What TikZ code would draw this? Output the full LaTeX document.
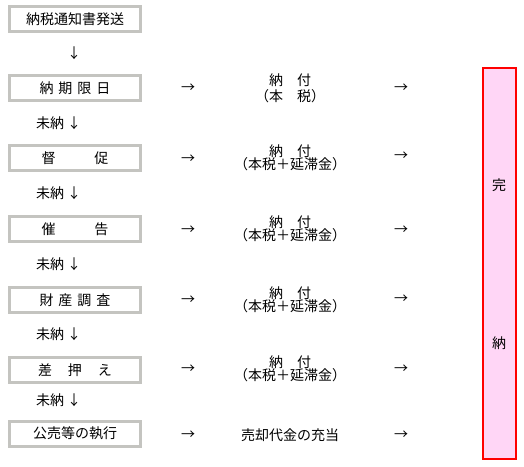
\documentclass[tikz,border=0pt]{standalone}
\usepackage{fontspec}
\setmainfont{Noto Sans CJK JP}
\definecolor{boxgray}{RGB}{196,196,192}
\definecolor{pinkfill}{RGB}{255,214,246}
\begin{document}
\begin{tikzpicture}[x=1pt,y=-1pt,font=\fontsize{14pt}{15pt}\selectfont]
\useasboundingbox (0,0) rectangle (524,466);
\tikzset{
  stepbox/.style={draw=boxgray,line width=3pt,fill=white,minimum width=131pt,minimum height=25pt,inner sep=0pt},
  lbl/.style={inner sep=0pt,outer sep=0pt}
}
% left boxes
\node[stepbox] (b1) at (75,19) {納税通知書発送};
\node[stepbox] (b2) at (75,88) {納\hspace{5pt}期\hspace{5pt}限\hspace{5pt}日};
\node[stepbox] (b3) at (75,158) {督\hspace{39pt}促};
\node[stepbox] (b4) at (75,229) {催\hspace{39pt}告};
\node[stepbox] (b5) at (75,300) {財\hspace{5pt}産\hspace{5pt}調\hspace{5pt}査};
\node[stepbox] (b6) at (75,370) {差\hspace{16pt}押\hspace{16pt}え};
\node[stepbox] (b7) at (75,433.5) {公売等の執行};
% down arrows
\node[lbl] (d1) at (74,53) {↓};
\node[lbl] (u2) at (50,123) {未納};
\node[lbl] (d2) at (74,123) {↓};
\node[lbl] (u3) at (50,193) {未納};
\node[lbl] (d3) at (74,193) {↓};
\node[lbl] (u4) at (50,264) {未納};
\node[lbl] (d4) at (74,264) {↓};
\node[lbl] (u5) at (50,334) {未納};
\node[lbl] (d5) at (74,334) {↓};
\node[lbl] (u6) at (50,400) {未納};
\node[lbl] (d6) at (74,400) {↓};
% left right-arrows
\node[lbl] (l2) at (188,88) {→};
\node[lbl] (l3) at (188,159) {→};
\node[lbl] (l4) at (188,230) {→};
\node[lbl] (l5) at (188,300) {→};
\node[lbl] (l6) at (188,369) {→};
\node[lbl] (l7) at (188,435) {→};
% middle texts
\node[lbl] (m2a) at (290,80) {納　付};
\node[lbl] (m2b) at (290,96) {（本　税）};
\node[lbl] (m3a) at (290,151) {納　付};
\node[lbl] (m3b) at (290,164.5) {（本税＋延滞金）};
\node[lbl] (m4a) at (290,222) {納　付};
\node[lbl] (m4b) at (290,235.5) {（本税＋延滞金）};
\node[lbl] (m5a) at (290,293) {納　付};
\node[lbl] (m5b) at (290,306.5) {（本税＋延滞金）};
\node[lbl] (m6a) at (290,362) {納　付};
\node[lbl] (m6b) at (290,375.5) {（本税＋延滞金）};
\node[lbl] (m7) at (290,435) {売却代金の充当};
% right arrows
\node[lbl] (r2) at (401,88) {→};
\node[lbl] (r3) at (401,156) {→};
\node[lbl] (r4) at (401,230) {→};
\node[lbl] (r5) at (401,299) {→};
\node[lbl] (r6) at (401,369) {→};
\node[lbl] (r7) at (401,435) {→};
% completion box
\node[draw=red,line width=2pt,fill=pinkfill,minimum width=33pt,minimum height=391pt,inner sep=0pt] (done) at (499.5,263) {};
\node[lbl] (k1) at (499,185) {完};
\node[lbl] (k2) at (499,343) {納};
\end{tikzpicture}
\end{document}
